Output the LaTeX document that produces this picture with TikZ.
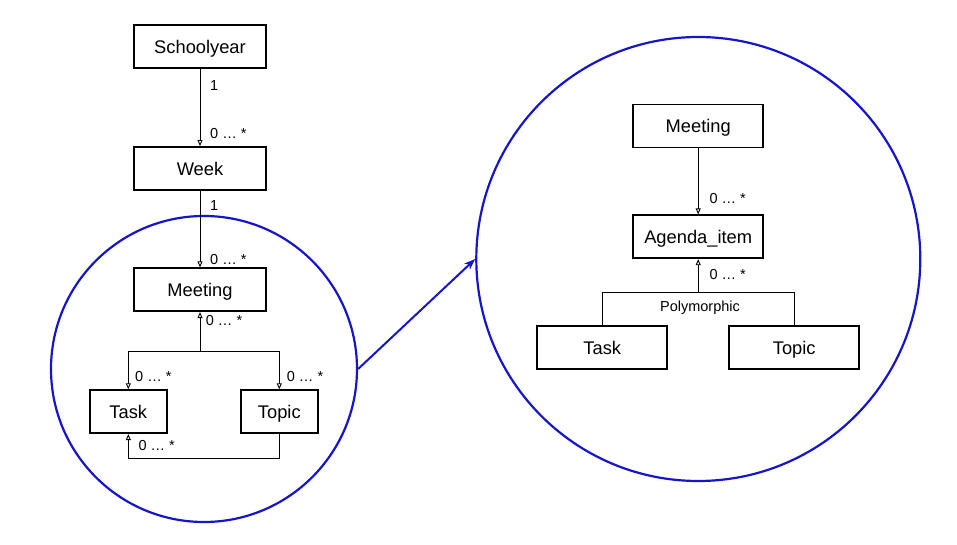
\documentclass[tikz,border=0pt]{standalone}
\usepackage{fontspec}
\setmainfont{Liberation Sans}
\usetikzlibrary{arrows.meta}
\definecolor{zoomblue}{RGB}{22,22,200}
\tikzset{
  umlbox/.style={draw=black, line width=1.8pt, fill=white, inner sep=0pt,
    minimum height=43pt, text height=13.1pt, text depth=0pt,
    font=\fontsize{18.3}{22}\selectfont},
  conn/.style={line width=1pt, draw=black},
  openarr/.style={conn, -{Triangle[open,length=6pt,width=5pt,line width=0.9pt]}},
  mult/.style={anchor=west, inner sep=0pt, font=\fontsize{14.5}{17}\selectfont},
  zoomring/.style={draw=zoomblue, line width=2.2pt},
}
\begin{document}
\begin{tikzpicture}[x=1pt,y=-1pt]
\useasboundingbox (0,0) rectangle (957,545);
\fill[white] (0,0) rectangle (957,545);

% rings
\node[zoomring, circle, minimum size=306pt, inner sep=0pt] (ringL) at (204,369) {};
\node[zoomring, circle, minimum size=444pt, inner sep=0pt] (ringR) at (698.3,259) {};
\draw[zoomring, line width=2pt, -{Stealth[length=11pt,width=8pt,inset=3pt]}] (ringL.east) -- (ringR.west);

% left diagram
\node[umlbox, minimum width=132pt] (school) at (200,46.5) {Schoolyear};
\node[umlbox, minimum width=132pt] (week) at (200,168.5) {Week};
\node[umlbox, minimum width=132pt] (meetL) at (200,289.7) {Meeting};
\node[umlbox, minimum width=77pt] (taskL) at (128.3,411.7) {Task};
\node[umlbox, minimum width=77pt] (topicL) at (279.3,411.7) {Topic};

\draw[openarr] (school.south) -- (week.north);
\draw[openarr] (week.south) -- (meetL.north);
\coordinate (jL) at (200,351.7);
\draw[openarr] (jL) -- (meetL.south);
\draw[openarr] (jL) -| (taskL.north);
\draw[openarr] (jL) -| (topicL.north);
\coordinate (bL) at (279.3,458.3);
\draw[openarr] (topicL.south) -- (bL) -| (taskL.south);

\node[mult] (m1) at (210,85.7) {1};
\node[mult] (m2) at (210,134) {0 … *};
\node[mult] (m3) at (210,206) {1};
\node[mult] (m4) at (210,259.3) {0 … *};
\node[mult] (m5) at (205.7,320.7) {0 … *};
\node[mult] (m6) at (135,376.7) {0 … *};
\node[mult] (m7) at (286.7,377) {0 … *};
\node[mult] (m8) at (138.3,446) {0 … *};

% right diagram
\node[umlbox, minimum width=130pt] (meetR) at (698.2,126) {Meeting};
\node[umlbox, minimum width=130pt] (agenda) at (698.2,236.8) {Agenda\_item};
\node[umlbox, minimum width=130pt] (taskR) at (602.3,347.7) {Task};
\node[umlbox, minimum width=130pt] (topicR) at (794.2,347.7) {Topic};

\draw[openarr] (meetR.south) -- (agenda.north);
\coordinate (pR) at (698.2,292.3);
\draw[openarr] (pR) -- (agenda.south);
\draw[conn] (taskR.north) |- (pR) -| (topicR.north);

\node[mult] (r1) at (709.3,198.3) {0 … *};
\node[mult] (r2) at (709.3,275) {0 … *};
\node[inner sep=0pt, text height=10.4pt, text depth=0pt, font=\fontsize{14.5}{17}\selectfont] (poly) at (700,306) {Polymorphic};
\end{tikzpicture}
\end{document}
